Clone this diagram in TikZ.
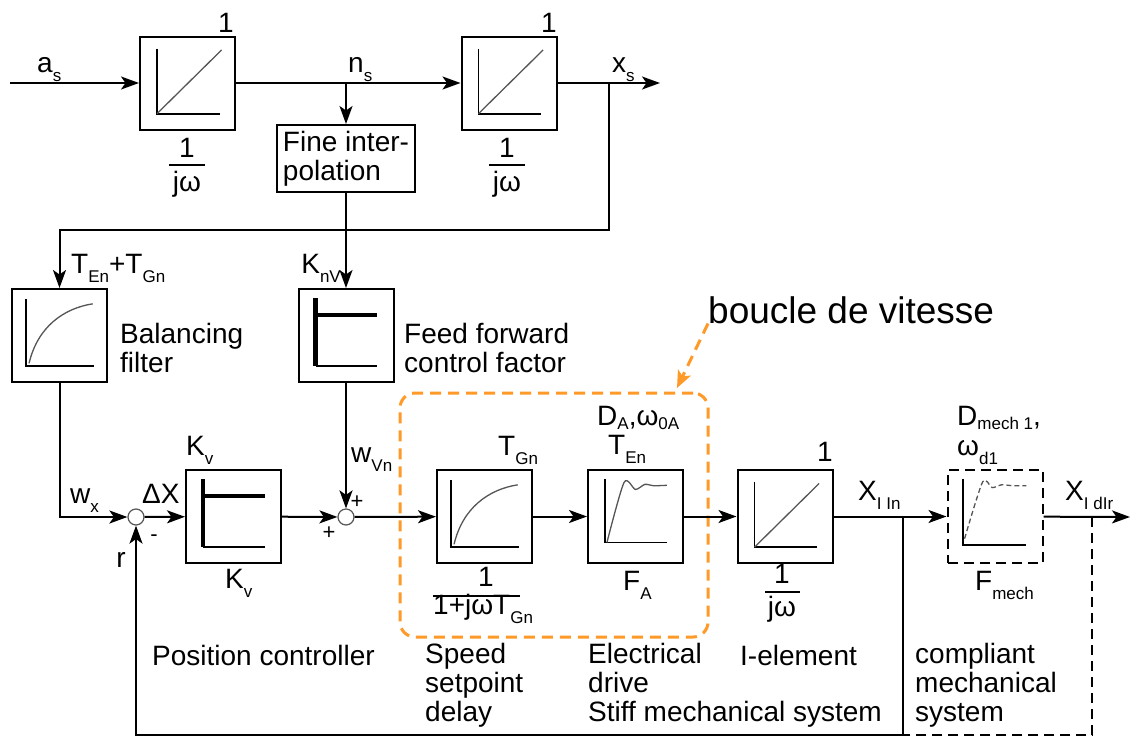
\documentclass[tikz,border=0pt]{standalone}
\usepackage{fontspec}
\setmainfont{Liberation Sans}
\usetikzlibrary{arrows.meta,calc}
\definecolor{orng}{RGB}{255,153,40}
\definecolor{gcol}{RGB}{85,85,85}
\newcommand\sbs[1]{\raisebox{-9pt}{\fontsize{17}{17}\selectfont #1}}
\newcommand\sbh[1]{\raisebox{-4pt}{\fontsize{17}{17}\selectfont #1}}
\tikzset{gfrom/.style={shift={(#1.north west)},x=95pt,y=-93pt}}
\newcommand\ginteg[1]{\begin{scope}[gfrom=#1]
 \draw[axl] (.19,.14)--(.19,.84)--(.85,.84);
 \draw[gcv] (.19,.84)--(.87,.155);
\end{scope}}
\newcommand\gpt[1]{\begin{scope}[gfrom=#1]
 \draw[axl] (.16,.12)--(.16,.84)--(.87,.84);
 \draw[gcv] (.19,.81) .. controls (.28,.42) and (.55,.22) .. (.86,.17);
\end{scope}}
\newcommand\gprop[1]{\begin{scope}[gfrom=#1]
 \draw[line width=4.5pt] (.19,.11)--(.19,.835);
 \draw[line width=4.5pt] (.19,.29)--(.84,.29);
 \draw[axl] (.19,.835)--(.84,.835);
\end{scope}}
\newcommand\gelec[1]{\begin{scope}[gfrom=#1]
 \draw[axl] (.19,.11)--(.19,.79)--(.84,.79);
 \draw[gcv] plot[smooth,tension=.45] coordinates {(.21,.79) (.39,.145) (.51,.22) (.61,.165) (.70,.18) (.84,.175)};
\end{scope}}
\newcommand\gmech[1]{\begin{scope}[gfrom=#1]
 \draw[axl] (.17,.11)--(.17,.82)--(.84,.82);
 \draw[gcv,dash pattern=on 5pt off 3pt] plot[smooth,tension=.45] coordinates {(.19,.75) (.38,.14) (.48,.2) (.58,.17) (.70,.18) (.84,.18)};
\end{scope}}
\begin{document}
\begin{tikzpicture}[x=1pt,y=-1pt,font=\fontsize{28}{29}\selectfont,
  blk/.style={draw,line width=2pt,minimum width=95pt,minimum height=93pt,inner sep=0pt},
  fbox/.style={draw,line width=2pt,minimum width=138pt,minimum height=67pt,inner sep=0pt,align=left},
  sumc/.style={circle,draw=gcol,fill=white,line width=1.2pt,minimum size=16pt,inner sep=0pt},
  lbl/.style={inner sep=0pt},
  pm/.style={inner sep=0pt,font=\fontsize{22}{22}\selectfont},
  ln/.style={line width=2pt},
  arr/.style={line width=2pt,-{Stealth[length=18pt,width=13pt,inset=4.5pt]}},
  axl/.style={line width=1.8pt},
  gcv/.style={draw=gcol,line width=1.3pt},
  obox/.style={draw=orng,line width=3pt,dash pattern=on 11pt off 7pt,rounded corners=15pt,minimum width=308pt,minimum height=244pt,inner sep=0pt},
  oarr/.style={draw=orng,line width=3pt,dash pattern=on 11pt off 7pt,-{Stealth[length=17pt,width=14pt,inset=4pt]}}]
\useasboundingbox (0,0) rectangle (1130,737);

% ---- blocks ----
\node[blk] (b1) at (187.5,83) {};
\node[blk] (b2) at (509,83) {};
\node[fbox] (fi) at (346,158.5) {Fine inter-\\polation};
\node[blk] (bf) at (59.5,335.5) {};
\node[blk] (ff) at (346,335.5) {};
\node[blk] (kv) at (233.5,516.5) {};
\node[blk] (tg) at (484.5,516.5) {};
\node[blk] (el) at (635.5,516.5) {};
\node[blk] (ie) at (785,516.5) {};
\node[blk,dash pattern=on 10pt off 6pt] (me) at (995,516.5) {};
\node[sumc] (s1) at (136,517) {};
\node[sumc] (s2) at (346,517) {};
\node[obox] (vb) at (554,515) {};

\ginteg{b1}\ginteg{b2}\ginteg{ie}
\gpt{bf}\gpt{tg}
\gprop{ff}\gprop{kv}
\gelec{el}\gmech{me}

% ---- coordinates ----
\coordinate (in) at (10,83);
\coordinate (ns) at (346,83);
\coordinate (xs) at (609,83);
\coordinate (xsend) at (660,83);
\coordinate (c1) at (609,230);
\coordinate (xin) at (903,517);
\coordinate (xout) at (1130,517);
\coordinate (xd) at (1092,517);
\coordinate (fb1) at (903,735);
\coordinate (fb2) at (136,735);
\coordinate (fb3) at (1092,735);
\coordinate (oa) at (677,388);

% ---- connectors ----
\draw[arr] (in) -- (b1);
\draw[arr] (b1) -- (b2);
\draw[arr] (ns) -- (fi);
\draw[arr] (b2) -- (xsend);
\draw[arr] (xs) -- (c1) -- (bf.north |- c1) -- (bf.north);
\draw[arr] (fi) -- (ff);
\draw[arr] (bf.south) |- (s1);
\draw[arr] (s1) -- (kv);
\draw[arr] (kv) -- (s2);
\draw[arr] (ff) -- (s2);
\draw[arr] (s2) -- (tg);
\draw[arr] (tg) -- (el);
\draw[arr] (el) -- (ie);
\draw[arr] (ie) -- (me);
\draw[arr] (me) -- (xout);
\draw[arr] (xin) -- (fb1) -- (fb2) -- (s1);
\draw[ln,dash pattern=on 10pt off 6pt] (xd) -- (fb3) -- (fb1);

% ---- top labels ----
\node[lbl,anchor=base west] (las) at (37,72) {a\sbs{s}};
\node[lbl,anchor=base west] (lns) at (348,72) {n\sbs{s}};
\node[lbl,anchor=base west] (lxs) at (612,72) {x\sbs{s}};
\node[lbl] (o1) at (226,23) {1};
\node[lbl] (o2) at (549,23) {1};
\node[lbl] (n1) at (187,148) {1};
\draw[ln] (169,165) -- (205,165);
\node[lbl] (d1) at (187,184) {jω};
\node[lbl] (n2) at (507,148) {1};
\draw[ln] (489,165) -- (525,165);
\node[lbl] (d2) at (507,184) {jω};

% ---- middle labels ----
\node[lbl,anchor=base west] (lte) at (71,273) {T\sbs{En}+T\sbs{Gn}};
\node[lbl,anchor=base east] (lkn) at (341,273) {K\sbs{nV}};
\node[lbl,anchor=base west,align=left] (lbf) at (120,372) {Balancing\\filter};
\node[lbl,anchor=base west,align=left] (lff) at (404,372) {Feed forward\\control factor};

% ---- lower labels ----
\node[lbl,anchor=base west] (lwx) at (70,503) {w\sbs{x}};
\node[lbl,anchor=base west] (ldx) at (142,503) {ΔX};
\node[lbl,anchor=base west] (lkv1) at (186,455) {K\sbs{v}};
\node[lbl,anchor=base west] (lkv2) at (225,588) {K\sbs{v}};
\node[lbl,anchor=base west] (lwv) at (351,462) {w\sbs{Vn}};
\node[pm] (p1) at (357,502) {+};
\node[pm] (p2) at (329,533) {+};
\node[pm] (m1) at (154,538) {-};
\node[lbl] (lr) at (121,560) {r};
\node[lbl,anchor=base west] (ltg) at (498,455) {T\sbs{Gn}};
\node[lbl] (n3) at (486,577) {1};
\draw[ln] (433,596) -- (520,596);
\node[lbl,anchor=base west] (d3) at (433,614) {1+jωT\sbs{Gn}};
\node[lbl,anchor=base west] (lda) at (597,425) {D\sbh{A},ω\sbh{0A}};
\node[lbl,anchor=base west] (lten) at (608,454) {T\sbs{En}};
\node[lbl,anchor=base west] (lfa) at (623,590) {F\sbs{A}};
\node[lbl] (o3) at (825,452) {1};
\node[lbl] (n4) at (782,574) {1};
\draw[ln] (765,592) -- (800,592);
\node[lbl] (d4) at (782,609) {jω};
\node[lbl,anchor=base west] (lxi) at (858,500) {X\sbs{I In}};
\node[lbl,anchor=base west] (lxd) at (1065,500) {X\sbs{I dIr}};
\node[lbl,anchor=base west] (ldm) at (957,425) {D\sbh{mech 1},};
\node[lbl,anchor=base west] (lwd) at (957,455) {ω\sbs{d1}};
\node[lbl,anchor=base west] (lfm) at (975,590) {F\sbs{mech}};

% ---- bottom texts ----
\node[lbl,anchor=base west] (tpc) at (152,665) {Position controller};
\node[lbl,anchor=base west,align=left] (tsd) at (425,721) {Speed\\setpoint\\delay};
\node[lbl,anchor=base west,align=left] (ted) at (588,721) {Electrical\\drive\\Stiff mechanical system};
\node[lbl,anchor=base west] (tie) at (740,665) {I-element};
\node[lbl,anchor=base west,align=left] (tcm) at (915,721) {compliant\\mechanical\\system};

% ---- speed loop annotation ----
\node[lbl,anchor=base west,font=\fontsize{37}{37}\selectfont] (bv) at (708,323) {boucle de vitesse};
\draw[oarr] (bv.south west) -- (oa);
\end{tikzpicture}
\end{document}
